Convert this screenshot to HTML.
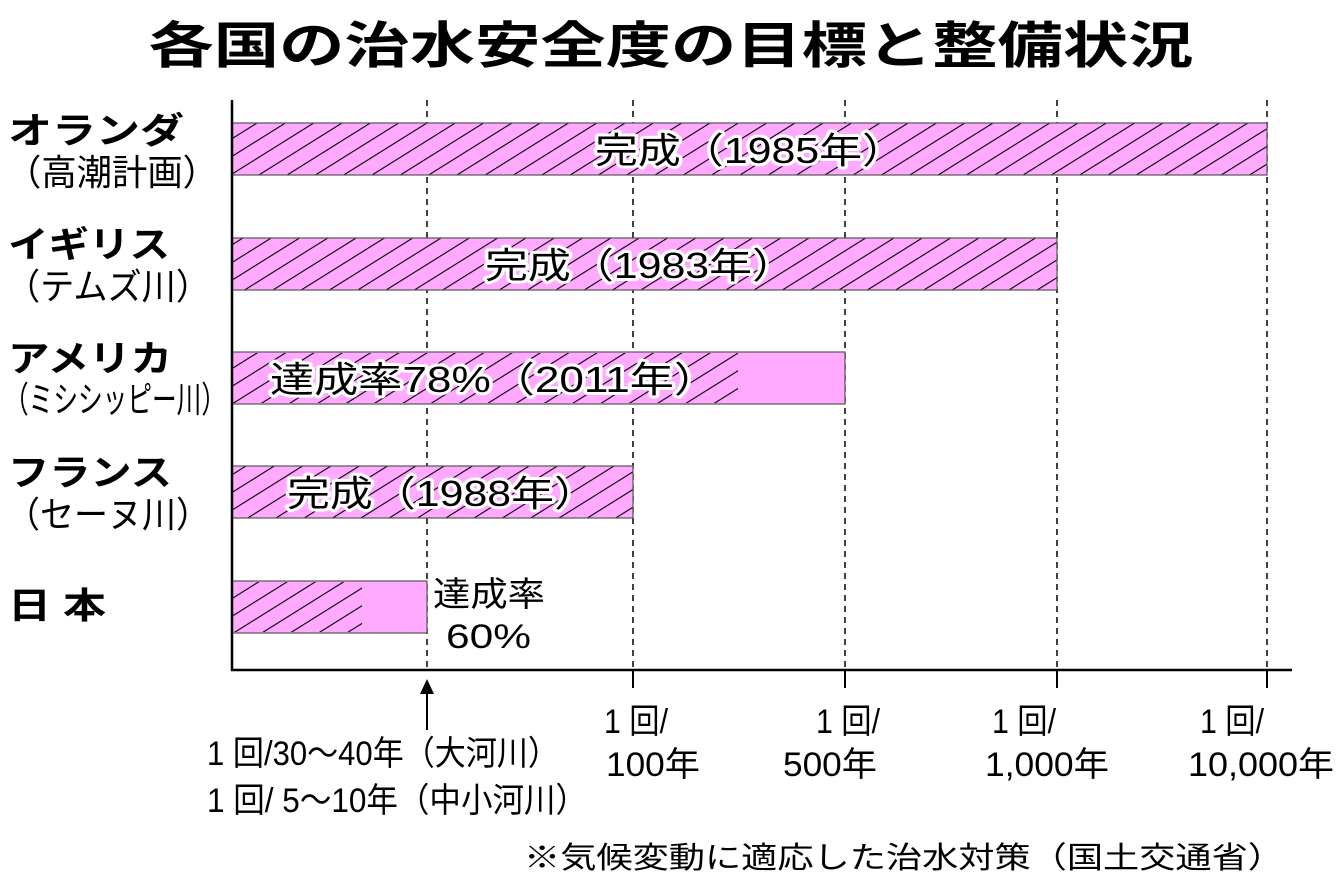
<!DOCTYPE html>
<html><head><meta charset="utf-8"><style>
html,body{margin:0;padding:0;background:#fff;}
svg text{font-family:"Liberation Sans","Noto Sans CJK JP",sans-serif;fill:#000;}
.h{stroke:#fff;stroke-width:6;paint-order:stroke;stroke-linejoin:round;}
</style></head><body>
<svg width="1343" height="886" viewBox="0 0 1343 886" xmlns="http://www.w3.org/2000/svg">
<defs>
<pattern id="hat" patternUnits="userSpaceOnUse" width="15" height="15" patternTransform="rotate(58)">
<rect width="15" height="15" fill="#ffaaff"/>
<line x1="0" y1="0" x2="0" y2="15" stroke="#000" stroke-width="2.2"/>
</pattern>
</defs>
<text x="671" y="63" font-size="50" font-weight="bold" text-anchor="middle" textLength="1045" lengthAdjust="spacingAndGlyphs">各国の治水安全度の目標と整備状況</text>

<g stroke="#000" stroke-width="1.5" stroke-dasharray="6,5">
<line x1="427" y1="100" x2="427" y2="670"/>
<line x1="633" y1="100" x2="633" y2="670"/>
<line x1="845" y1="100" x2="845" y2="670"/>
<line x1="1057" y1="100" x2="1057" y2="670"/>
<line x1="1267" y1="100" x2="1267" y2="670"/>
</g>
<g stroke="#000" stroke-width="2">
<line x1="633" y1="670" x2="633" y2="688"/>
<line x1="845" y1="670" x2="845" y2="688"/>
<line x1="1057" y1="670" x2="1057" y2="688"/>
<line x1="1267" y1="670" x2="1267" y2="688"/>
</g>

<g stroke="#555" stroke-width="1.2">
<rect x="232" y="123" width="1035" height="52" fill="url(#hat)"/>
<rect x="232" y="238" width="825" height="52" fill="url(#hat)"/>
<rect x="232" y="352" width="613" height="52" fill="#ffaaff"/>
<rect x="232" y="466" width="401" height="52" fill="url(#hat)"/>
<rect x="232" y="581" width="195" height="52" fill="#ffaaff"/>
</g>
<rect x="233" y="353" width="505" height="50" fill="url(#hat)"/>
<rect x="233" y="582" width="129" height="50" fill="url(#hat)"/>

<line x1="232" y1="100" x2="232" y2="671" stroke="#000" stroke-width="2.5"/>
<line x1="231" y1="670" x2="1292" y2="670" stroke="#000" stroke-width="2.5"/>

<text class="h" x="750" y="163" font-size="36" text-anchor="middle" textLength="310" lengthAdjust="spacingAndGlyphs">完成（1985年）</text>
<text class="h" x="640" y="278" font-size="36" text-anchor="middle" textLength="310" lengthAdjust="spacingAndGlyphs">完成（1983年）</text>
<text class="h" x="270" y="392" font-size="36" textLength="448" lengthAdjust="spacingAndGlyphs">達成率78%（2011年）</text>
<text class="h" x="287" y="506" font-size="36" textLength="310" lengthAdjust="spacingAndGlyphs">完成（1988年）</text>
<text x="433" y="606" font-size="34" textLength="112" lengthAdjust="spacingAndGlyphs">達成率</text>
<text x="446" y="648" font-size="34" textLength="85" lengthAdjust="spacingAndGlyphs">60%</text>

<g font-size="36">
<text x="8" y="143" font-weight="bold" textLength="176" lengthAdjust="spacingAndGlyphs">オランダ</text>
<text x="6" y="185" textLength="212" lengthAdjust="spacingAndGlyphs">（高潮計画）</text>
<text x="8" y="257" font-weight="bold" textLength="162" lengthAdjust="spacingAndGlyphs">イギリス</text>
<text x="6" y="299" textLength="204" lengthAdjust="spacingAndGlyphs">（テムズ川）</text>
<text x="8" y="371" font-weight="bold" textLength="164" lengthAdjust="spacingAndGlyphs">アメリカ</text>
<text x="4" y="412" textLength="222" lengthAdjust="spacingAndGlyphs">（ミシシッピー川）</text>
<text x="8" y="485" font-weight="bold" textLength="164" lengthAdjust="spacingAndGlyphs">フランス</text>
<text x="6" y="527" textLength="204" lengthAdjust="spacingAndGlyphs">（セーヌ川）</text>
<text x="8" y="618" font-weight="bold" textLength="98" lengthAdjust="spacingAndGlyphs">日 本</text>
</g>

<line x1="427" y1="730" x2="427" y2="692" stroke="#000" stroke-width="2"/>
<polygon points="427,679 420,694 434,694" fill="#000"/>

<g font-size="34" text-anchor="middle">
<text x="636" y="733" textLength="64" lengthAdjust="spacingAndGlyphs">1 回/</text>
<text x="653" y="776" textLength="94" lengthAdjust="spacingAndGlyphs">100年</text>
<text x="848" y="733" textLength="64" lengthAdjust="spacingAndGlyphs">1 回/</text>
<text x="830" y="776" textLength="94" lengthAdjust="spacingAndGlyphs">500年</text>
<text x="1024" y="733" textLength="64" lengthAdjust="spacingAndGlyphs">1 回/</text>
<text x="1047" y="776" textLength="124" lengthAdjust="spacingAndGlyphs">1,000年</text>
<text x="1232" y="733" textLength="64" lengthAdjust="spacingAndGlyphs">1 回/</text>
<text x="1261" y="776" textLength="146" lengthAdjust="spacingAndGlyphs">10,000年</text>
</g>
<text x="207" y="765" font-size="34" textLength="352" lengthAdjust="spacingAndGlyphs">1 回/30～40年（大河川）</text>
<text x="207" y="812" font-size="34" textLength="380" lengthAdjust="spacingAndGlyphs">1 回/ 5～10年（中小河川）</text>
<text x="524" y="868" font-size="30" textLength="760" lengthAdjust="spacingAndGlyphs">※気候変動に適応した治水対策（国土交通省）</text>
</svg>
</body></html>
